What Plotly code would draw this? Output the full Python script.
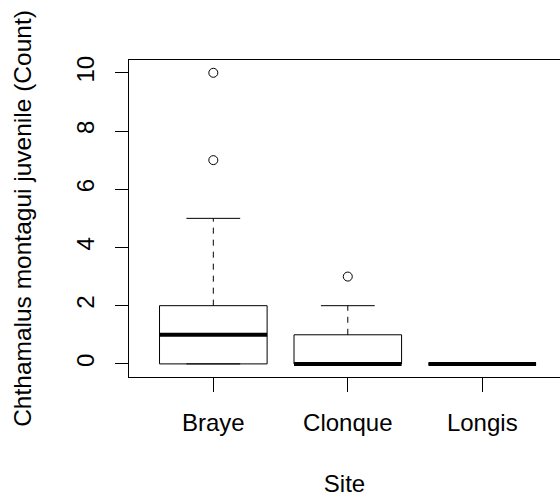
import plotly.graph_objects as go

# ---- data ----
sites = ["Braye", "Clonque", "Longis"]
site_pos = [1, 2, 3]
q1 = [0, 0, 0]
medians = [1, 0, 0]
q3 = [2, 1, 0]
lower_whisker = [0, 0, 0]
upper_whisker = [5, 2, 0]
outlier_site = ["Braye", "Braye", "Clonque"]
outlier_value = [7, 10, 3]
y_ticks = [0, 2, 4, 6, 8, 10]

BOX_HALF = 0.4
CAP_HALF = 0.2
FONT = "Liberation Sans, Arial, sans-serif"
FS = 24

box_x, box_y = [], []
med_x, med_y = [], []
wh_x, wh_y = [], []
cap_x, cap_y = [], []
for p, a, m, b, lo, hi in zip(site_pos, q1, medians, q3, lower_whisker, upper_whisker):
    box_x += [p - BOX_HALF, p + BOX_HALF, p + BOX_HALF, p - BOX_HALF, p - BOX_HALF, None]
    box_y += [a, a, b, b, a, None]
    med_x += [p - BOX_HALF, p + BOX_HALF, None]
    med_y += [m, m, None]
    wh_x += [p, p, None, p, p, None]
    wh_y += [b, hi, None, a, lo, None]
    cap_x += [p - CAP_HALF, p + CAP_HALF, None, p - CAP_HALF, p + CAP_HALF, None]
    cap_y += [hi, hi, None, lo, lo, None]

pos_of = dict(zip(sites, site_pos))
out_x = [pos_of[s] for s in outlier_site]

fig = go.Figure()
fig.add_trace(go.Scatter(x=wh_x, y=wh_y, mode="lines",
                         line=dict(color="black", width=1, dash="6px,6px"),
                         hoverinfo="skip", showlegend=False))
fig.add_trace(go.Scatter(x=cap_x, y=cap_y, mode="lines",
                         line=dict(color="black", width=1),
                         hoverinfo="skip", showlegend=False))
fig.add_trace(go.Scatter(x=box_x, y=box_y, mode="lines",
                         line=dict(color="black", width=1),
                         hoverinfo="skip", showlegend=False))
fig.add_trace(go.Scatter(x=med_x, y=med_y, mode="lines",
                         line=dict(color="black", width=4),
                         hoverinfo="skip", showlegend=False))
fig.add_trace(go.Scatter(x=out_x, y=outlier_value, mode="markers",
                         marker=dict(symbol="circle-open", size=9,
                                     color="black", line=dict(width=1)),
                         showlegend=False))

fig.update_layout(
    width=560, height=497,
    margin=dict(l=129, r=0, t=60, b=120, autoexpand=False),
    paper_bgcolor="white", plot_bgcolor="white",
    font=dict(family=FONT, size=FS, color="black"),
    showlegend=False,
)
fig.update_xaxes(
    range=[0.373, 3.578], tickmode="array", tickvals=site_pos, ticktext=sites,
    ticks="outside", ticklen=14, tickwidth=1, tickcolor="black",
    ticklabelstandoff=10,
    showline=True, mirror=True, linecolor="black", linewidth=1,
    showgrid=False, zeroline=False, automargin=False,
    tickfont=dict(family=FONT, size=FS, color="black"),
    title=dict(text="Site", standoff=40, font=dict(family=FONT, size=FS, color="black")),
)
fig.update_yaxes(
    range=[-0.45, 10.44], tickmode="array", tickvals=y_ticks,
    tickangle=-90, ticks="outside", ticklen=13, tickwidth=1, tickcolor="black",
    ticklabelstandoff=11,
    showline=True, mirror=False, linecolor="black", linewidth=1,
    showgrid=False, zeroline=False, automargin=False,
    tickfont=dict(family=FONT, size=FS, color="black"),
    title=dict(text="Chthamalus montagui juvenile (Count)", standoff=33,
               font=dict(family=FONT, size=24.5, color="black")),
)

fig.write_html(
    "out.html",
    config={"displayModeBar": False},
    post_script="document.body.style.margin='0';document.body.style.overflow='hidden';",
)
